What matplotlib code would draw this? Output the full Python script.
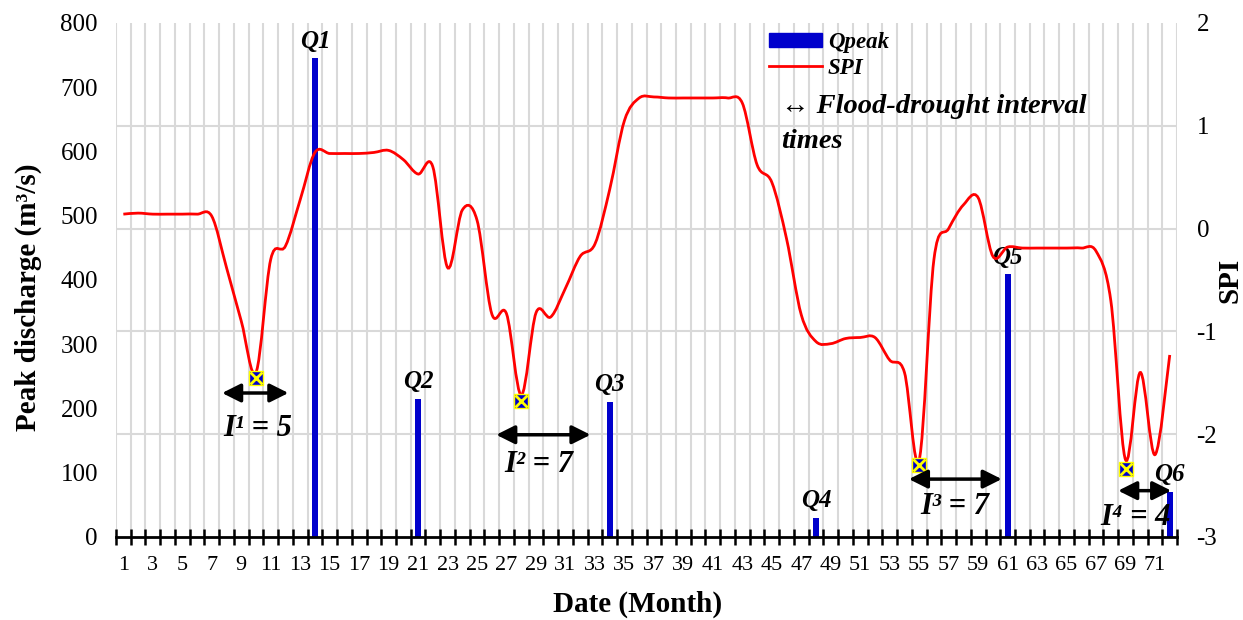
import numpy as np
import matplotlib
matplotlib.use("Agg")
import matplotlib.pyplot as plt
from matplotlib.path import Path
from matplotlib.patches import PathPatch, Patch
from matplotlib.lines import Line2D
from matplotlib.ticker import MultipleLocator, FixedLocator

plt.rcParams['font.family'] = ['Liberation Serif', 'DejaVu Serif']
plt.rcParams['axes.unicode_minus'] = False

# ---- data ----
months = np.arange(1, 73)
spi = [0.14, 0.15, 0.14, 0.14, 0.14, 0.14, 0.12, -0.38, -0.9, -1.4,
       -0.3, -0.17, 0.28, 0.74, 0.73, 0.73, 0.73, 0.74, 0.76, 0.67,
       0.53, 0.6, -0.38, 0.18, 0.08, -0.83, -0.83, -1.62, -0.82, -0.86,
       -0.58, -0.27, -0.15, 0.38, 1.05, 1.27, 1.28, 1.27, 1.27, 1.27,
       1.27, 1.27, 1.22, 0.62, 0.45, -0.1, -0.84, -1.1, -1.12, -1.07,
       -1.06, -1.06, -1.28, -1.4, -2.25, -0.3, 0.0, 0.23, 0.3, -0.27,
       -0.18, -0.19, -0.19, -0.19, -0.19, -0.19, -0.22, -0.7, -2.25, -1.4,
       -2.2, -1.23]

peak_months = [14, 21, 34, 48, 61, 72]
peak_q = [745, 215, 210, 30, 409, 70]
peak_names = ['Q1', 'Q2', 'Q3', 'Q4', 'Q5', 'Q6']

drought_months = [10, 28, 55, 69]
drought_spi = [-1.45, -1.68, -2.3, -2.34]

# flood-drought intervals: (start, end, arrow level in m3/s, label)
interval_start = [7.7, 26.3, 54.3, 68.5]
interval_end = [12.2, 32.7, 60.6, 72.1]
interval_level = [224, 159, 90, 72]
interval_labels = ['I\u00b9 = 5', 'I\u00b2 = 7', 'I\u00b3 = 7', 'I\u2074 = 4']
interval_label_x = [10.1, 29.2, 57.4, 69.7]
interval_label_y = [168, 113, 48, 30]

blue = '#0000CC'
grid_c = '#D9D9D9'


def smooth_path(x, y):
    # Excel-like smoothed line via cubic Bezier segments
    pts = np.column_stack([x, y]).astype(float)
    n = len(pts)
    verts = [pts[0]]
    codes = [Path.MOVETO]
    for i in range(n - 1):
        p0 = pts[i - 1] if i > 0 else pts[i]
        p1 = pts[i]
        p2 = pts[i + 1]
        p3 = pts[i + 2] if i + 2 < n else pts[i + 1]
        c1 = p1 + (p2 - p0) / 6.0
        c2 = p2 - (p3 - p1) / 6.0
        verts += [c1, c2, p2]
        codes += [Path.CURVE4] * 3
    return Path(verts, codes)


fig = plt.figure(figsize=(12.43, 6.2), dpi=100)
ax = fig.add_axes([0.0933, 0.134, 0.8537, 0.829])
ax2 = ax.twinx()

ax.bar(peak_months, peak_q, width=0.4, color=blue, zorder=3)
for m, q, name in zip(peak_months, peak_q, peak_names):
    ax.annotate(name, (m, q), xytext=(0, 4), textcoords='offset points',
                ha='center', va='bottom', fontsize=18, fontweight='bold',
                fontstyle='italic')

ax.set_xlim(0.5, 72.5)
ax.set_ylim(0, 800)
ax.yaxis.set_major_locator(MultipleLocator(100))
ax.yaxis.set_minor_locator(MultipleLocator(160))
ax.xaxis.set_major_locator(FixedLocator(months[::2]))
ax.xaxis.set_minor_locator(FixedLocator(np.arange(0.5, 73, 1)))
ax.grid(which='minor', axis='both', color=grid_c, lw=1.5, zorder=0)
ax.set_axisbelow(True)
ax.tick_params(axis='y', which='both', length=0, labelsize=18, pad=13)
ax.tick_params(axis='x', which='major', length=0, labelsize=16, pad=14)
ax.tick_params(axis='x', which='minor', length=11, width=1.8,
               direction='inout', color='black')
for s in ['top', 'left', 'right']:
    ax.spines[s].set_visible(False)
ax.spines['bottom'].set_linewidth(2)
ax.spines['bottom'].set_zorder(5)

ax.set_xlabel('Date (Month)', fontsize=21, fontweight='bold')
ax.xaxis.set_label_coords(0.492, -0.105)
ax.set_ylabel('Peak discharge (m\u00b3/s)', fontsize=21, fontweight='bold')
ax.yaxis.set_label_coords(-0.07, 0.467)

# SPI on secondary axis
ax2.set_ylim(-3, 2)
ax2.yaxis.set_major_locator(MultipleLocator(1))
ax2.tick_params(axis='y', length=0, labelsize=18, pad=14)
for s in ax2.spines.values():
    s.set_visible(False)
ax2.add_patch(PathPatch(smooth_path(months, spi), facecolor='none',
                        edgecolor='red', lw=2, zorder=4))
ax2.plot(drought_months, drought_spi, ls='none', marker='s', ms=10,
         mfc=blue, mec='yellow', mew=1, zorder=5)
ax2.plot(drought_months, drought_spi, ls='none', marker='x', ms=9,
         mec='yellow', mew=2, zorder=6)
ax2.set_ylabel('SPI', fontsize=21, fontweight='bold')
ax2.yaxis.set_label_coords(1.037, 0.5)

# interval arrows (left axis units)
for x0, x1, lv, lab, lx, ly in zip(interval_start, interval_end, interval_level,
                                   interval_labels, interval_label_x, interval_label_y):
    ax2.annotate('', xy=(x1, lv), xytext=(x0, lv), xycoords=ax.transData,
                 textcoords=ax.transData,
                 arrowprops=dict(arrowstyle='<|-|>', color='black', lw=2.5,
                                 mutation_scale=28, shrinkA=0, shrinkB=0),
                 zorder=7)
    ax2.text(lx, ly, lab, transform=ax.transData, ha='center', va='center',
             fontsize=22, fontweight='bold', fontstyle='italic', zorder=7)

handles = [Patch(facecolor=blue, edgecolor=blue),
           Line2D([], [], color='red', lw=2)]
leg = ax2.legend(handles, ['Qpeak', 'SPI'], loc='upper left',
                 bbox_to_anchor=(0.607, 1.0), frameon=False,
                 prop=dict(size=16.5, weight='bold', style='italic'),
                 handlelength=2.3, handleheight=0.55, labelspacing=0.2,
                 handletextpad=0.25, borderaxespad=0)
note_style = dict(transform=ax2.transAxes, ha='left', va='center',
                  fontsize=20.5, fontweight='bold', fontstyle='italic')
ax2.text(0.627, 0.838, '\u2194 Flood-drought interval', **note_style)
ax2.text(0.627, 0.770, 'times', **note_style)

fig.savefig('out.png', dpi=100)
